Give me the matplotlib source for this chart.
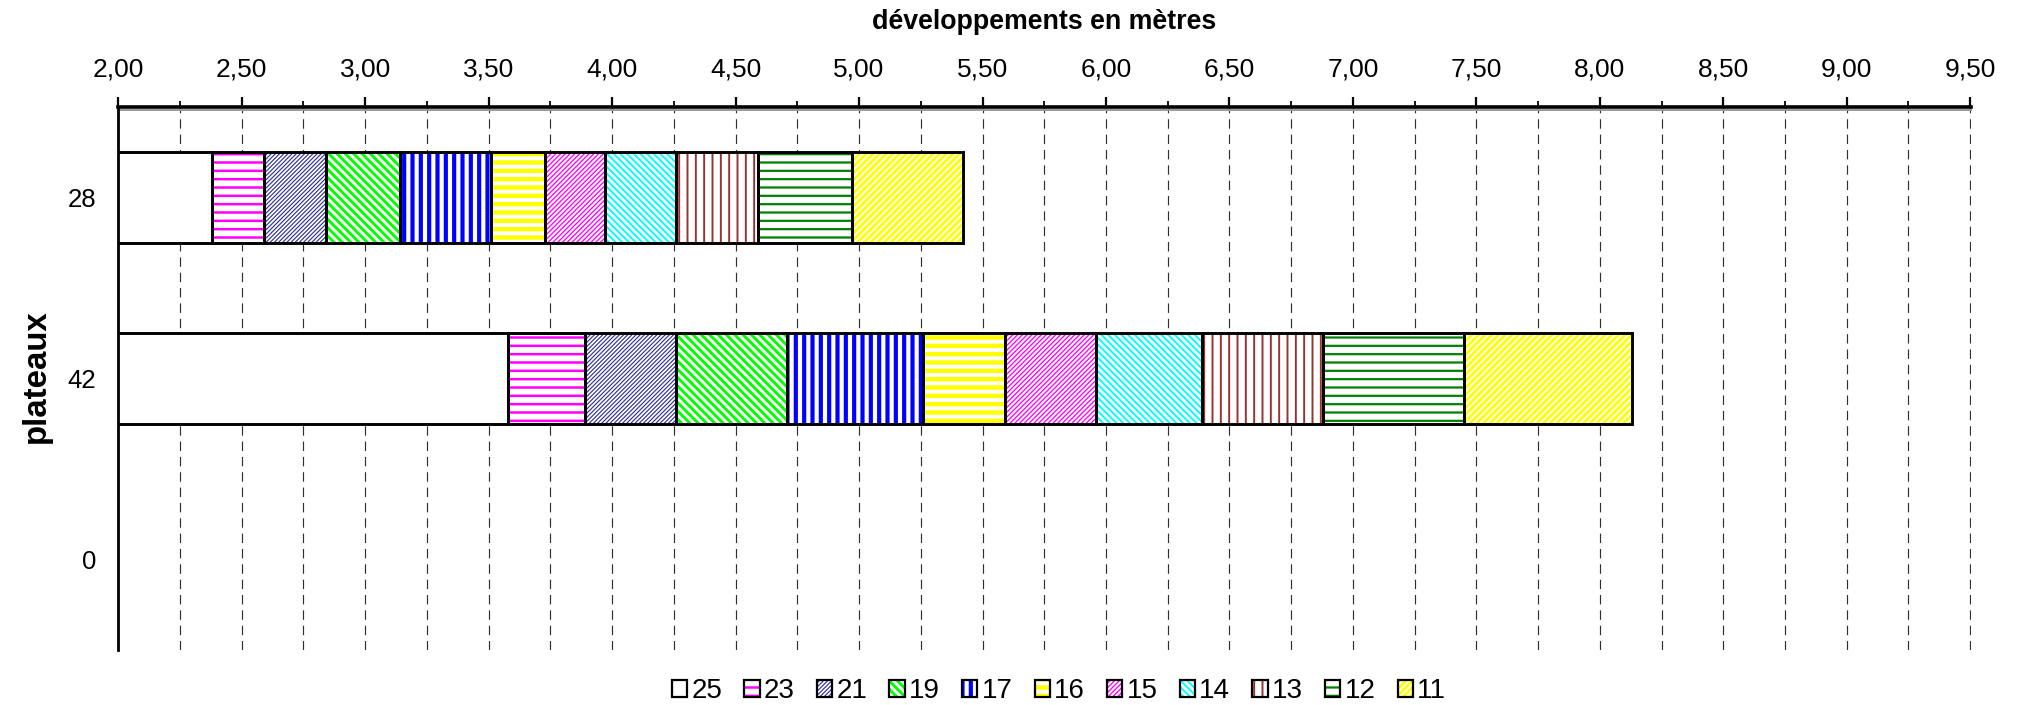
import matplotlib
matplotlib.use("Agg")
import matplotlib.pyplot as plt
import matplotlib.transforms as mtransforms
from matplotlib.patches import Patch, Rectangle
from matplotlib.legend_handler import HandlerBase
from matplotlib.ticker import MultipleLocator, FuncFormatter

plt.rcParams['font.family'] = ['Liberation Sans', 'DejaVu Sans']

# ---- data ----
plateaux = ['28', '42', '0']            # top to bottom
pignons = ['25', '23', '21', '19', '17', '16', '15', '14', '13', '12', '11']
dev_28 = [2.38, 2.59, 2.84, 3.14, 3.51, 3.73, 3.97, 4.26, 4.59, 4.97, 5.42]
dev_42 = [3.58, 3.89, 4.26, 4.71, 5.26, 5.59, 5.96, 6.39, 6.88, 7.45, 8.13]
dev_0 = []
developpements = [dev_28, dev_42, dev_0]

# ---- styles ----
hatch_colors = ['white', '#FF00FF', '#333399', '#00FF00', '#0000FF', '#FFFF00',
                '#FF00FF', '#00FFFF', '#993333', '#008000', '#FFFF00']
hatches = ['', '--', '/' * 8, '\\' * 4, '||', '--', '/' * 7, '\\' * 5, '||', '--', '/' * 5]
hatch_lws = [1.0, 1.8, 0.85, 2.1, 3.0, 3.2, 0.95, 1.4, 1.4, 1.6, 2.0]


def wrap_hatch_lw(p, lw):
    orig = p.draw

    def draw(renderer):
        with plt.rc_context({'hatch.linewidth': lw}):
            orig(renderer)
    p.draw = draw
    if hasattr(p, 'set_hatch_linewidth'):
        p.set_hatch_linewidth(lw)


fig = plt.figure(figsize=(20.17, 7.05), dpi=100)
ax = fig.add_axes([0.05865, 0.078, 0.9184, 0.770])


def hatched(ax, y, w, l, k):
    b = ax.barh(y, w, left=l, height=0.5, color='white',
                edgecolor=hatch_colors[k] if hatches[k] else 'white',
                hatch=hatches[k] if hatches[k] else None,
                linewidth=0, zorder=2)
    for p in b:
        wrap_hatch_lw(p, hatch_lws[k])
    ax.barh(y, w, left=l, height=0.5, fill=False, edgecolor='black',
            linewidth=2.1, zorder=3)


for i, dev in enumerate(developpements):
    prev = 0.0
    for k, v in enumerate(dev):
        hatched(ax, i, v - prev, prev, k)
        prev = v

ax.set_xlim(2, 9.502)
ax.set_ylim(2.5, -0.5)
ax.set_yticks(range(len(plateaux)))
ax.set_yticklabels(plateaux)

ax.xaxis.tick_top()
ax.xaxis.set_major_locator(MultipleLocator(0.5))
ax.xaxis.set_minor_locator(MultipleLocator(0.25))
ax.xaxis.set_major_formatter(FuncFormatter(lambda v, p: f"{v:.2f}".replace('.', ',')))
ax.set_axisbelow(True)
ax.grid(which='both', axis='x', color='#303030', linestyle=(0, (8, 5)), linewidth=0.85)

for s in ['right', 'bottom']:
    ax.spines[s].set_visible(False)
ax.spines['top'].set_linewidth(2.6)
ax.spines['left'].set_linewidth(2.0)
shadow = mtransforms.offset_copy(ax.transAxes, fig=fig, x=0, y=-3, units='dots')
ax.plot([0, 1], [1, 1], transform=shadow, color='#9a9a9a', lw=1.4, clip_on=False, zorder=1)

ax.tick_params(axis='x', which='major', top=True, bottom=False, length=7.5, width=1.6,
               pad=11, labelsize=19, direction='out')
ax.tick_params(axis='x', which='minor', top=True, bottom=False, length=4, width=1.3,
               direction='out')
ax.tick_params(axis='y', length=0, pad=16, labelsize=18.5)

fig.text(0.5178, 1 - 22 / 705, 'développements en mètres', ha='center', va='center',
         fontsize=19.3, fontweight='bold')
fig.text(36 / 2017, 0.466, 'plateaux', ha='center', va='center',
         rotation=90, fontsize=23.8, fontweight='bold')


class HandlerHatch(HandlerBase):
    def create_artists(self, legend, orig_handle, xdescent, ydescent, width, height,
                       fontsize, trans):
        color, hatch, lw = orig_handle.hinfo
        r1 = Rectangle((-xdescent, -ydescent), width, height, facecolor='white',
                       edgecolor=color if hatch else 'white', hatch=hatch if hatch else None,
                       linewidth=0, transform=trans)
        wrap_hatch_lw(r1, lw)
        r2 = Rectangle((-xdescent, -ydescent), width, height, fill=False,
                       edgecolor='black', linewidth=1.6, transform=trans)
        return [r1, r2]


handles = []
for k in range(len(pignons)):
    h = Patch(facecolor='white')
    h.hinfo = (hatch_colors[k], hatches[k], hatch_lws[k])
    handles.append(h)

fig.legend(handles, pignons, handler_map={Patch: HandlerHatch()},
           loc='center', bbox_to_anchor=(0.525, 1 - 691 / 705), ncol=len(pignons),
           frameon=False, fontsize=20, handlelength=0.55, handleheight=0.55,
           handletextpad=0.15, columnspacing=0.8, borderpad=0, borderaxespad=0)

fig.savefig('out.png', dpi=100)
